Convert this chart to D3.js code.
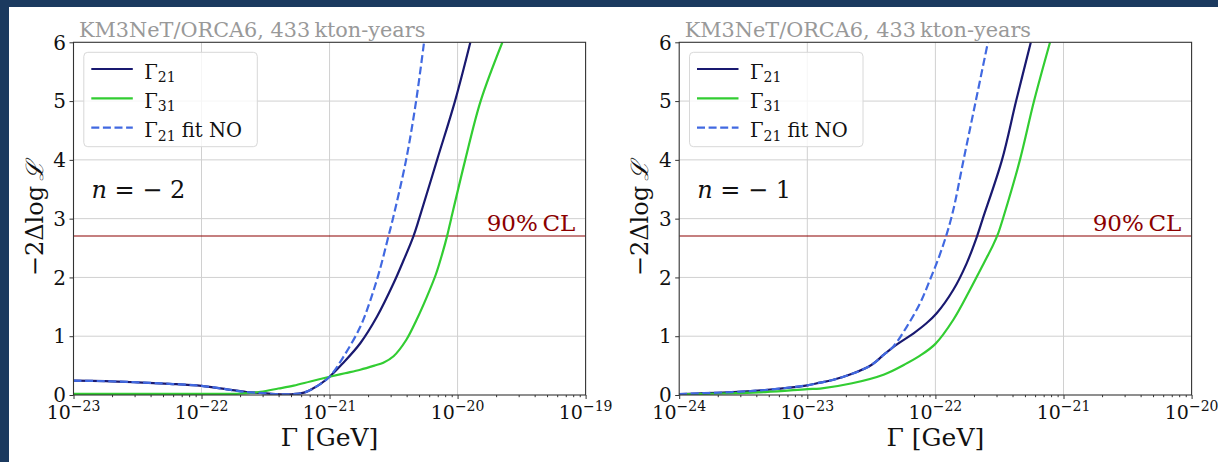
<!DOCTYPE html>
<html>
<head>
<meta charset="utf-8">
<script src="https://cdn.jsdelivr.net/npm/d3@7"></script>
<style>
  html, body { margin: 0; padding: 0; background: #ffffff; }
  svg { display: block; }
  text { font-family: "DejaVu Serif", serif; }
</style>
</head>
<body>
<svg id="chart" width="1218" height="462"></svg>
<script>
// ---- data: log10(Γ / GeV) and −2Δlog L, n = −2 ----
const n2LogGammaG21 = [-23, -22.75, -22.5, -22.25, -22.0, -21.8, -21.65, -21.54, -21.42, -21.3, -21.2, -21.13, -21.07, -21.0, -20.9, -20.76, -20.63, -20.5, -20.42, -20.345, -20.3, -20.16, -20.02, -19.9];
const n2ValuesG21   = [0.243, 0.235, 0.215, 0.19, 0.155, 0.097, 0.05, 0.035, 0.015, 0.012, 0.04, 0.11, 0.19, 0.31, 0.53, 0.88, 1.33, 1.9, 2.3, 2.7, 3.0, 4.0, 5.0, 6.0];

const n2LogGammaFit = [-23, -22.75, -22.5, -22.25, -22.0, -21.8, -21.65, -21.54, -21.42, -21.3, -21.2, -21.13, -21.07, -21.0, -20.9, -20.76, -20.68, -20.605, -20.54, -20.505, -20.402, -20.324, -20.262];
const n2ValuesFit   = [0.243, 0.235, 0.215, 0.19, 0.155, 0.097, 0.05, 0.035, 0.015, 0.012, 0.04, 0.11, 0.19, 0.31, 0.62, 1.16, 1.62, 2.15, 2.7, 3.0, 4.0, 5.0, 6.0];

const n2LogGammaG31 = [-23, -22.5, -22.0, -21.7, -21.54, -21.4, -21.28, -21.15, -21.0, -20.88, -20.76, -20.65, -20.58, -20.5, -20.4, -20.32, -20.24, -20.17, -20.12, -20.08, -20.05, -19.94, -19.82, -19.65];
const n2ValuesG31   = [0.02, 0.02, 0.02, 0.025, 0.055, 0.11, 0.16, 0.23, 0.31, 0.37, 0.43, 0.5, 0.55, 0.66, 0.94, 1.28, 1.67, 2.05, 2.4, 2.72, 3.0, 4.0, 5.0, 6.0];

// ---- data: n = −1 ----
const n1LogGammaG21 = [-24, -23.59, -23.33, -23.0, -22.9, -22.81, -22.65, -22.5, -22.4, -22.3, -22.17, -22.07, -21.99, -21.86, -21.756, -21.675, -21.63, -21.48, -21.37, -21.255];
const n1ValuesG21   = [0.017, 0.05, 0.085, 0.165, 0.21, 0.25, 0.36, 0.51, 0.69, 0.86, 1.05, 1.22, 1.39, 1.79, 2.24, 2.7, 3.0, 4.0, 5.0, 6.0];

const n1LogGammaFit = [-24, -23.59, -23.33, -23.0, -22.9, -22.81, -22.65, -22.5, -22.4, -22.33, -22.224, -22.12, -22.042, -21.97, -21.91, -21.86, -21.78, -21.685, -21.59];
const n1ValuesFit   = [0.017, 0.05, 0.085, 0.165, 0.21, 0.25, 0.36, 0.51, 0.69, 0.82, 1.16, 1.56, 1.96, 2.36, 2.75, 3.15, 4.0, 5.0, 6.0];

const n1LogGammaG31 = [-24, -23.33, -23.0, -22.9, -22.65, -22.4, -22.24, -22.12, -22.0, -21.86, -21.73, -21.62, -21.55, -21.51, -21.47, -21.34, -21.23, -21.105];
const n1ValuesG31   = [0.01, 0.05, 0.1, 0.11, 0.2, 0.35, 0.52, 0.67, 0.87, 1.28, 1.79, 2.25, 2.55, 2.75, 3.02, 4.0, 5.0, 6.0];

// ---- axes / labels ----
const n2TickExponents = [-23, -22, -21, -20, -19];
const n1TickExponents = [-24, -23, -22, -21, -20];
const yTickValues = [0, 1, 2, 3, 4, 5, 6];
const clLevel = 2.706;
const seriesNames = ["21", "31", "21"];
const titleText = "KM3NeT/ORCA6, 433\u2009kton-years";

const colors = { g21: "#191970", g31: "#32cd32", fit: "#4169e1", cl: "#8b0000", frame: "#1b3a5f" };

const svg = d3.select("#chart");

// page frame
svg.append("rect").attr("x", 0).attr("y", 0).attr("width", 1218).attr("height", 7).attr("fill", colors.frame);
svg.append("rect").attr("x", 0).attr("y", 0).attr("width", 9).attr("height", 462).attr("fill", colors.frame);

const toSeries = (lg, v) => lg.map((l, i) => ({ g: Math.pow(10, l), v: v[i] }));

function drawPanel(p, idx) {
  const x = d3.scaleLog().domain([Math.pow(10, p.exps[0]), Math.pow(10, p.exps[p.exps.length - 1])]).range([p.x0, p.x1]);
  const y = d3.scaleLinear().domain([0, 6]).range([395, 42.3]);
  const g = svg.append("g");

  // grid
  const majors = p.exps.map(e => Math.pow(10, e));
  g.append("g").selectAll("line").data(majors.slice(1, -1)).join("line")
    .attr("x1", d => x(d)).attr("x2", d => x(d)).attr("y1", y(0)).attr("y2", y(6))
    .attr("stroke", "#d0d0d0").attr("stroke-width", 1);
  g.append("g").selectAll("line").data(yTickValues.slice(1, -1)).join("line")
    .attr("x1", p.x0).attr("x2", p.x1).attr("y1", d => y(d)).attr("y2", d => y(d))
    .attr("stroke", "#d0d0d0").attr("stroke-width", 1);

  // clip
  const clipId = "clip" + idx;
  svg.append("clipPath").attr("id", clipId).append("rect")
    .attr("x", p.x0).attr("y", y(6)).attr("width", p.x1 - p.x0).attr("height", y(0) - y(6));
  const plot = g.append("g").attr("clip-path", `url(#${clipId})`);

  // 90% CL line
  plot.append("line").attr("x1", p.x0).attr("x2", p.x1).attr("y1", y(clLevel)).attr("y2", y(clLevel))
    .attr("stroke", colors.cl).attr("stroke-width", 1.1);

  const line = d3.line().x(d => x(d.g)).y(d => y(d.v)).curve(d3.curveCatmullRom.alpha(0.5));
  plot.append("path").datum(p.g21).attr("d", line).attr("fill", "none").attr("stroke", colors.g21).attr("stroke-width", 2.2);
  plot.append("path").datum(p.g31).attr("d", line).attr("fill", "none").attr("stroke", colors.g31).attr("stroke-width", 2.2);
  plot.append("path").datum(p.fit).attr("d", line).attr("fill", "none").attr("stroke", colors.fit).attr("stroke-width", 2.2)
    .attr("stroke-dasharray", "8,3.6");

  // x axis
  const minors = x.ticks().filter(v => Math.abs(Math.log10(v) - Math.round(Math.log10(v))) > 1e-6);
  const xAxisMajor = d3.axisBottom(x).tickValues(majors).tickSize(4).tickSizeOuter(0).tickFormat("");
  const xAxisMinor = d3.axisBottom(x).tickValues(minors).tickSize(2.2).tickSizeOuter(0).tickFormat("");
  g.append("g").attr("transform", `translate(0,${y(0)})`).call(xAxisMinor)
    .call(s => s.select(".domain").remove()).selectAll("line").attr("stroke", "#333");
  g.append("g").attr("transform", `translate(0,${y(0)})`).call(xAxisMajor)
    .call(s => s.select(".domain").remove()).selectAll("line").attr("stroke", "#333");

  const xl = g.append("g").selectAll("text").data(p.exps).join("text")
    .attr("x", d => x(Math.pow(10, d))).attr("y", 419).attr("text-anchor", "middle")
    .attr("font-size", 19).attr("fill", "#111");
  xl.append("tspan").text("10");
  xl.append("tspan").attr("dy", -8.5).attr("font-size", 14).text(d => "\u2212" + Math.abs(d));

  // y axis
  const yAxis = d3.axisLeft(y).tickValues(yTickValues).tickSize(4).tickSizeOuter(0).tickFormat("");
  g.append("g").attr("transform", `translate(${p.x0},0)`).call(yAxis)
    .call(s => s.select(".domain").remove()).selectAll("line").attr("stroke", "#333");
  g.append("g").selectAll("text").data(yTickValues).join("text")
    .attr("x", p.x0 - 7.5).attr("y", d => y(d)).attr("dy", "0.36em").attr("text-anchor", "end")
    .attr("font-size", 20).attr("fill", "#111").text(d => d);

  // frame
  g.append("rect").attr("x", p.x0).attr("y", y(6)).attr("width", p.x1 - p.x0).attr("height", y(0) - y(6))
    .attr("fill", "none").attr("stroke", "#333").attr("stroke-width", 1.1);

  // labels
  const xc = (p.x0 + p.x1) / 2;
  g.append("text").attr("x", xc).attr("y", 445.5).attr("text-anchor", "middle").attr("font-size", 25)
    .attr("fill", "#111").text("\u0393 [GeV]");

  const yl = g.append("text").attr("transform", `translate(${p.x0 - 31},${(y(0) + y(6)) / 2}) rotate(-90)`)
    .attr("text-anchor", "middle").attr("font-size", 24).attr("fill", "#111");
  yl.append("tspan").text("\u22122\u0394log\u2009");
  yl.append("tspan").attr("font-style", "italic").text("\u2112");

  g.append("text").attr("x", p.x0 + 5.5).attr("y", 36.5).attr("font-size", 20.8).attr("fill", "#999999").text(titleText);

  g.append("text").attr("x", p.x1 - 10.3).attr("y", 231).attr("text-anchor", "end").attr("font-size", 23)
    .attr("fill", colors.cl).text("90%\u2009CL");

  const nl = g.append("text").attr("x", p.x0 + 18).attr("y", 198).attr("font-size", 24).attr("fill", "#111");
  nl.append("tspan").attr("font-style", "italic").text("n");
  nl.append("tspan").text(" = \u2212 " + p.nValue);

  // legend
  const lx = p.x0 + 10.3, ly = 52.3;
  const leg = g.append("g");
  leg.append("rect").attr("x", lx).attr("y", ly).attr("width", 173.5).attr("height", 94.4).attr("rx", 4)
    .attr("fill", "#ffffff").attr("fill-opacity", 0.8).attr("stroke", "#d8d8d8").attr("stroke-width", 1);
  const items = [
    { name: seriesNames[0], suffix: "", color: colors.g21, dash: null },
    { name: seriesNames[1], suffix: "", color: colors.g31, dash: null },
    { name: seriesNames[2], suffix: " fit NO", color: colors.fit, dash: "8,3.6" }
  ];
  items.forEach((it, i) => {
    const yy = 69 + i * 29.3;
    leg.append("line").attr("x1", lx + 7.5).attr("x2", lx + 49).attr("y1", yy).attr("y2", yy)
      .attr("stroke", it.color).attr("stroke-width", 2.2).attr("stroke-dasharray", it.dash);
    const t = leg.append("text").attr("x", lx + 60.5).attr("y", yy + 9.5).attr("font-size", 19.5).attr("fill", "#111");
    t.append("tspan").text("\u0393");
    t.append("tspan").attr("dy", 3.5).attr("font-size", 14).text(it.name);
    if (it.suffix) t.append("tspan").attr("dy", -3.5).text(it.suffix);
  });
}

const panels = [
  { x0: 73.5, x1: 585.6, exps: n2TickExponents, nValue: "2",
    g21: toSeries(n2LogGammaG21, n2ValuesG21), g31: toSeries(n2LogGammaG31, n2ValuesG31), fit: toSeries(n2LogGammaFit, n2ValuesFit) },
  { x0: 679.2, x1: 1191.6, exps: n1TickExponents, nValue: "1",
    g21: toSeries(n1LogGammaG21, n1ValuesG21), g31: toSeries(n1LogGammaG31, n1ValuesG31), fit: toSeries(n1LogGammaFit, n1ValuesFit) }
];
panels.forEach(drawPanel);
</script>
</body>
</html>
